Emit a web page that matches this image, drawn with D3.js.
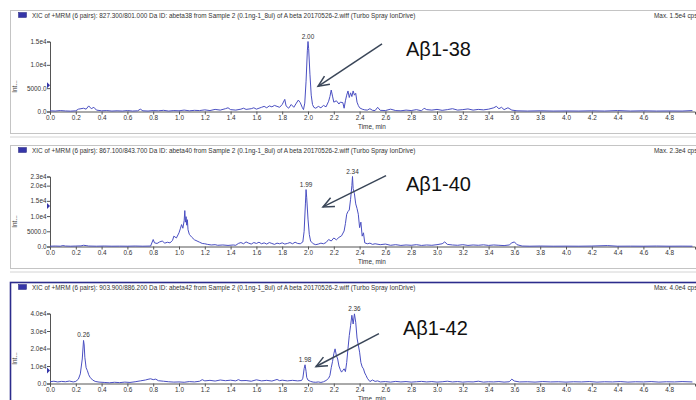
<!DOCTYPE html>
<html>
<head>
<meta charset="utf-8">
<script src="https://cdn.jsdelivr.net/npm/d3@7"></script>
<style>
  body { margin: 0; background: #fff; }
  svg { display: block; font-family: "Liberation Sans", Arial, sans-serif; }
</style>
</head>
<body>
<div id="chart"></div>
<script>
var svgWidth = 696;
var svgHeight = 400;

// Titles of the three XIC traces
var titles = [
  "XIC of +MRM (6 pairs): 827.300/801.000 Da ID: abeta38 from Sample 2 (0.1ng-1_8ul) of A beta 20170526-2.wiff (Turbo Spray IonDrive)",
  "XIC of +MRM (6 pairs): 867.100/843.700 Da ID: abeta40 from Sample 2 (0.1ng-1_8ul) of A beta 20170526-2.wiff (Turbo Spray IonDrive)",
  "XIC of +MRM (6 pairs): 903.900/886.200 Da ID: abeta42 from Sample 2 (0.1ng-1_8ul) of A beta 20170526-2.wiff (Turbo Spray IonDrive)"
];
var maxLabels = ["Max. 1.5e4 cps", "Max. 2.3e4 cps", "Max. 4.0e4 cps"];
var yMax = [15000, 23000, 40000];
var yTicks = [
  [0, 5000, 10000, 15000],
  [0, 5000, 10000, 15000, 20000, 23000],
  [0, 10000, 20000, 30000, 40000]
];
var xTicks = [0.0, 0.2, 0.4, 0.6, 0.8, 1.0, 1.2, 1.4, 1.6, 1.8, 2.0, 2.2, 2.4, 2.6, 2.8,
  3.0, 3.2, 3.4, 3.6, 3.8, 4.0, 4.2, 4.4, 4.6, 4.8];

// peak apex labels [time, intensity, label]
var peaks38 = [[2.00, 15000, "2.00"]];
var peaks40 = [[1.985, 18700, "1.99"], [2.345, 23000, "2.34"]];
var peaks42 = [[0.26, 24600, "0.26"], [1.977, 10700, "1.98"], [2.36, 39800, "2.36"]];

// annotation: label, arrow tail [t, v], arrow tip [t, v], text anchor [t, v]
var notes = [
  { label: "Aβ1-38", tail: [2.574, 14500], tip: [2.078, 5400], at: [2.76, 11900] },
  { label: "Aβ1-40", tail: [2.605, 23300], tip: [2.116, 13000], at: [2.76, 18300] },
  { label: "Aβ1-42", tail: [2.55, 28500], tip: [2.062, 9700], at: [2.736, 28000] }
];

// abeta38 trace [time, intensity]
var trace38 = [
  [0.00,150],[0.04,100],[0.08,200],[0.12,120],[0.16,80],[0.20,150],[0.22,500],[0.24,600],
  [0.26,700],[0.28,500],[0.30,1200],[0.32,600],[0.34,900],[0.36,300],[0.40,150],[0.44,200],
  [0.48,100],[0.52,150],[0.56,100],[0.60,200],[0.64,100],[0.68,150],[0.70,500],[0.72,150],
  [0.76,100],[0.80,200],[0.84,150],[0.88,250],[0.92,100],[0.96,200],[1.00,150],[1.04,300],
  [1.08,150],[1.12,250],[1.16,200],[1.20,350],[1.24,200],[1.28,450],[1.32,300],[1.36,600],
  [1.38,800],[1.40,400],[1.44,300],[1.48,500],[1.50,700],[1.52,450],[1.56,600],[1.58,800],
  [1.60,500],[1.62,700],[1.64,900],[1.66,1100],[1.68,800],[1.70,1200],[1.72,1000],[1.74,1300],
  [1.76,1100],[1.78,900],[1.80,1500],[1.82,2600],[1.83,1200],[1.85,700],[1.87,1500],[1.89,900],
  [1.91,1800],[1.925,2450],[1.94,1900],[1.955,900],[1.965,400],[1.975,1800],[1.985,6500],
  [1.995,13000],[2.00,15000],[2.005,13500],[2.015,8000],[2.025,3500],[2.035,1500],[2.045,900],
  [2.06,700],[2.08,1100],[2.10,800],[2.12,1300],[2.14,1000],[2.16,2200],[2.17,3200],[2.18,4600],
  [2.19,3300],[2.20,2000],[2.22,2300],[2.24,1600],[2.25,2000],[2.27,1900],[2.28,700],[2.29,2300],
  [2.30,3500],[2.31,4400],[2.32,3000],[2.33,4000],[2.34,3200],[2.35,4400],[2.36,3500],[2.37,3900],
  [2.38,2000],[2.39,1300],[2.40,800],[2.42,500],[2.44,350],[2.46,300],[2.48,600],[2.50,250],
  [2.52,200],[2.54,900],[2.56,250],[2.60,200],[2.64,500],[2.68,200],[2.72,150],[2.76,300],
  [2.80,200],[2.84,400],[2.88,150],[2.90,700],[2.92,400],[2.96,300],[3.00,450],[3.04,250],
  [3.08,400],[3.12,600],[3.16,300],[3.20,400],[3.24,550],[3.28,300],[3.32,450],[3.36,350],
  [3.40,500],[3.44,800],[3.46,1100],[3.48,600],[3.50,900],[3.52,400],[3.55,800],[3.58,300],
  [3.62,150],[3.70,100],[3.80,150],[3.90,100],[4.00,120],[4.10,100],[4.20,150],[4.30,100],
  [4.40,200],[4.50,100],[4.60,150],[4.70,100],[4.80,120],[4.90,100],[4.98,200]
];

// abeta40 trace [time, intensity]
var trace40 = [
  [0.00,100],[0.04,150],[0.08,100],[0.10,300],[0.12,150],[0.16,100],[0.20,150],[0.24,200],
  [0.26,400],[0.28,300],[0.30,150],[0.36,100],[0.42,150],[0.48,100],[0.54,120],[0.60,100],
  [0.66,150],[0.72,100],[0.78,150],[0.80,2300],[0.81,1200],[0.83,1000],[0.85,1500],[0.87,1800],
  [0.89,1100],[0.91,1400],[0.93,1200],[0.95,2000],[0.96,3400],[0.98,2800],[1.00,4500],[1.01,5800],
  [1.02,7200],[1.03,6000],[1.04,8500],[1.045,11800],[1.05,8000],[1.055,9800],[1.06,7000],
  [1.065,8800],[1.07,5500],[1.08,4000],[1.09,3500],[1.10,3000],[1.12,2200],[1.14,1800],
  [1.16,1400],[1.18,1000],[1.20,900],[1.22,700],[1.25,500],[1.28,600],[1.30,400],[1.34,500],
  [1.38,350],[1.42,500],[1.44,400],[1.46,1000],[1.48,1300],[1.50,900],[1.52,1500],[1.54,1100],
  [1.56,800],[1.58,1300],[1.60,1000],[1.62,1400],[1.64,900],[1.66,1200],[1.68,800],[1.70,1300],
  [1.72,1000],[1.74,700],[1.76,1100],[1.78,900],[1.80,1200],[1.82,800],[1.84,1000],[1.86,1300],
  [1.88,900],[1.90,1400],[1.92,1000],[1.94,900],[1.96,1500],[1.97,5000],[1.98,14000],
  [1.985,18700],[1.99,16000],[2.00,9000],[2.01,4000],[2.02,1800],[2.04,900],[2.06,600],
  [2.08,800],[2.10,1100],[2.12,900],[2.14,1300],[2.16,2300],[2.18,1800],[2.20,2800],[2.22,2200],
  [2.24,3000],[2.26,3500],[2.28,5100],[2.29,7500],[2.30,10600],[2.31,11500],[2.32,12000],
  [2.33,15500],[2.34,20000],[2.345,23000],[2.35,19000],[2.36,17300],[2.37,14000],[2.38,12500],
  [2.39,10600],[2.40,6200],[2.41,8000],[2.42,3400],[2.43,4500],[2.44,1200],[2.46,900],
  [2.48,1100],[2.50,700],[2.52,900],[2.56,600],[2.60,800],[2.64,400],[2.68,600],[2.72,350],
  [2.76,500],[2.80,400],[2.84,600],[2.88,350],[2.92,500],[2.96,400],[3.00,600],[3.04,900],
  [3.06,1500],[3.08,700],[3.12,500],[3.16,400],[3.20,600],[3.24,350],[3.28,500],[3.32,400],
  [3.36,550],[3.40,350],[3.44,500],[3.48,400],[3.52,300],[3.56,500],[3.58,1200],[3.60,1500],
  [3.62,600],[3.66,150],[3.72,100],[3.80,150],[3.90,100],[4.00,120],[4.10,100],[4.20,150],
  [4.32,300],[4.40,100],[4.50,120],[4.60,100],[4.70,150],[4.80,100],[4.90,120],[4.98,100]
];

// abeta42 trace [time, intensity]
var trace42 = [
  [0.00,1000],[0.03,1300],[0.06,900],[0.09,1200],[0.12,1000],[0.15,1400],[0.18,900],[0.20,1200],
  [0.22,2500],[0.235,5500],[0.25,14000],[0.26,24600],[0.265,22000],[0.27,15000],[0.28,9000],
  [0.29,7300],[0.30,5000],[0.31,3600],[0.33,2000],[0.35,1200],[0.38,800],[0.42,600],[0.46,400],
  [0.50,700],[0.54,500],[0.58,800],[0.62,600],[0.66,1000],[0.70,1500],[0.74,2000],[0.76,2400],
  [0.78,2700],[0.80,2200],[0.82,2500],[0.84,1600],[0.88,1300],[0.92,1000],[0.96,800],[1.00,900],
  [1.04,700],[1.08,1100],[1.12,900],[1.16,1300],[1.18,2200],[1.20,1500],[1.24,1800],[1.28,1400],
  [1.32,2000],[1.36,1600],[1.40,1900],[1.44,1500],[1.46,2200],[1.48,1600],[1.52,1700],[1.56,1300],
  [1.60,2100],[1.64,1500],[1.68,1800],[1.72,1400],[1.76,2300],[1.78,1600],[1.80,1900],[1.84,1500],
  [1.88,1800],[1.92,1500],[1.95,1700],[1.96,3000],[1.97,8500],[1.977,10700],[1.985,7000],
  [1.99,3500],[2.00,1900],[2.02,1200],[2.04,800],[2.06,700],[2.08,900],[2.10,600],[2.12,1000],
  [2.14,1700],[2.16,3000],[2.17,4600],[2.18,9000],[2.19,12500],[2.20,17000],[2.21,19800],
  [2.22,16000],[2.23,14000],[2.24,10000],[2.25,8000],[2.26,6500],[2.27,7500],[2.28,8400],
  [2.29,6800],[2.30,12000],[2.31,20000],[2.32,27400],[2.33,33000],[2.34,39000],[2.35,34000],
  [2.36,39800],[2.37,35000],[2.38,26000],[2.39,22000],[2.40,17900],[2.41,12000],[2.42,9500],
  [2.43,8400],[2.44,6000],[2.45,4600],[2.46,3000],[2.48,1100],[2.50,2000],[2.52,1200],[2.54,1500],
  [2.56,900],[2.60,1100],[2.64,800],[2.68,1200],[2.72,900],[2.76,1100],[2.80,800],[2.84,1000],
  [2.88,1200],[2.92,900],[2.96,1100],[3.00,800],[3.04,1000],[3.08,1300],[3.12,900],[3.16,1100],
  [3.20,800],[3.24,1000],[3.28,900],[3.32,1300],[3.36,800],[3.40,1000],[3.44,900],[3.48,1100],
  [3.52,800],[3.56,1000],[3.58,2500],[3.60,1400],[3.64,900],[3.70,1000],[3.76,800],[3.82,1100],
  [3.88,900],[3.94,1000],[4.00,800],[4.06,1000],[4.12,900],[4.18,1100],[4.24,800],[4.30,1000],
  [4.36,900],[4.42,1100],[4.48,800],[4.54,1000],[4.60,900],[4.66,1100],[4.72,800],[4.78,1000],
  [4.84,900],[4.90,1100],[4.98,900]
];

var traces = [trace38, trace40, trace42];
var peakSets = [peaks38, peaks40, peaks42];

// panel layout
var panelTops = [10.5, 145.5, 282.5];
var plotHeight = 70;   // pixel height for yMax
var zeroOffset = 101;  // from panel top to baseline
var lineColor = "#4a4fc2";

var svg = d3.select("#chart").append("svg")
  .attr("width", svgWidth)
  .attr("height", svgHeight);

var xScale = d3.scaleLinear().domain([0, 5]).range([50, 695]);

function fmtY(v) {
  if (v < 10000) return v.toFixed(1);
  return (v / 10000).toFixed(1) + "e4";
}

traces.forEach(function(trace, i) {
  var top = panelTops[i];
  var zero = top + zeroOffset;
  var g = svg.append("g");
  var selected = (i === 2);

  // panel frame
  g.append("rect")
    .attr("x", 10.5).attr("y", top)
    .attr("width", 700).attr("height", 123)
    .attr("fill", "#fff")
    .attr("stroke", selected ? "#2c2c8c" : "#c4c4c4")
    .attr("stroke-width", selected ? 1.6 : 1);
  if (!selected) {
    g.append("line")
      .attr("x1", 10).attr("x2", 696)
      .attr("y1", top + 126.5).attr("y2", top + 126.5)
      .attr("stroke", "#d4d4d4");
  }

  // legend swatch + title
  g.append("rect")
    .attr("x", 18.5).attr("y", top + 2)
    .attr("width", 8).attr("height", 5)
    .attr("fill", "#3535a8")
    .attr("stroke", "#22227a").attr("stroke-width", 0.5);
  g.append("text")
    .attr("x", 32).attr("y", top + 7)
    .attr("font-size", "6.4px")
    .attr("fill", "#333")
    .text(titles[i]);
  g.append("text")
    .attr("x", 654).attr("y", top + 7)
    .attr("font-size", "6.4px")
    .attr("fill", "#333")
    .text(maxLabels[i]);

  var yScale = d3.scaleLinear().domain([0, yMax[i]]).range([zero, zero - plotHeight]);

  // y axis
  var yAxis = d3.axisLeft(yScale)
    .tickValues(yTicks[i])
    .tickSize(3)
    .tickFormat(fmtY);
  var ya = g.append("g")
    .attr("transform", "translate(50,0)")
    .call(yAxis);
  ya.select(".domain").attr("stroke", "#555");
  ya.selectAll(".tick line").attr("stroke", "#555");
  ya.selectAll(".tick text")
    .attr("font-size", "6.4px")
    .attr("font-family", "Liberation Sans, Arial, sans-serif")
    .attr("fill", "#333")
    .attr("x", -3.5);

  // x axis
  var xAxis = d3.axisBottom(xScale)
    .tickValues(xTicks)
    .tickSize(3)
    .tickFormat(d3.format(".1f"));
  var xa = g.append("g")
    .attr("transform", "translate(0," + zero + ")")
    .call(xAxis);
  xa.select(".domain").attr("stroke", "#555");
  xa.selectAll(".tick line").attr("stroke", "#555");
  xa.selectAll(".tick text")
    .attr("font-size", "6.4px")
    .attr("font-family", "Liberation Sans, Arial, sans-serif")
    .attr("fill", "#333")
    .attr("y", 4);

  g.append("text")
    .attr("x", 358).attr("y", zero + 17)
    .attr("font-size", "6.4px")
    .attr("fill", "#333")
    .text("Time, min");

  g.append("text")
    .attr("transform", "translate(17," + (zero - 25) + ") rotate(-90)")
    .attr("text-anchor", "middle")
    .attr("font-size", "6.4px")
    .attr("fill", "#333")
    .text("Int...");

  // small marker on the y axis
  var my = [yScale(5600), yScale(13300), yScale(7400)][i];
  g.append("path")
    .attr("d", "M47," + (my - 3) + "L50," + my + "L47," + (my + 3) + "Z")
    .attr("fill", "#3535a8");

  // trace
  var line = d3.line()
    .x(function(d) { return xScale(d[0]); })
    .y(function(d) { return yScale(d[1]); });
  g.append("path")
    .datum(trace)
    .attr("fill", "none")
    .attr("stroke", lineColor)
    .attr("stroke-width", 1)
    .attr("stroke-linejoin", "round")
    .attr("d", line);

  // peak labels
  g.selectAll(".peak")
    .data(peakSets[i])
    .enter()
    .append("text")
    .attr("x", function(d) { return xScale(d[0]); })
    .attr("y", function(d) { return yScale(d[1]) - 3; })
    .attr("text-anchor", "middle")
    .attr("font-size", "6.4px")
    .attr("fill", "#333")
    .text(function(d) { return d[2]; });

  // annotation arrow + label
  var n = notes[i];
  var x1 = xScale(n.tail[0]), y1 = yScale(n.tail[1]);
  var x2 = xScale(n.tip[0]), y2 = yScale(n.tip[1]);
  var ang = Math.atan2(y2 - y1, x2 - x1);
  var hl = 12, ha = 0.42;
  g.append("line")
    .attr("x1", x1).attr("y1", y1).attr("x2", x2).attr("y2", y2)
    .attr("stroke", "#3a4658").attr("stroke-width", 1.5);
  g.append("path")
    .attr("d", "M" + (x2 - hl * Math.cos(ang - ha)) + "," + (y2 - hl * Math.sin(ang - ha)) +
      "L" + x2 + "," + y2 +
      "L" + (x2 - hl * Math.cos(ang + ha)) + "," + (y2 - hl * Math.sin(ang + ha)))
    .attr("fill", "none")
    .attr("stroke", "#3a4658").attr("stroke-width", 1.5);
  g.append("text")
    .attr("x", xScale(n.at[0])).attr("y", yScale(n.at[1]))
    .attr("font-size", "20px")
    .attr("fill", "#111")
    .text(n.label);
});
</script>
</body>
</html>
